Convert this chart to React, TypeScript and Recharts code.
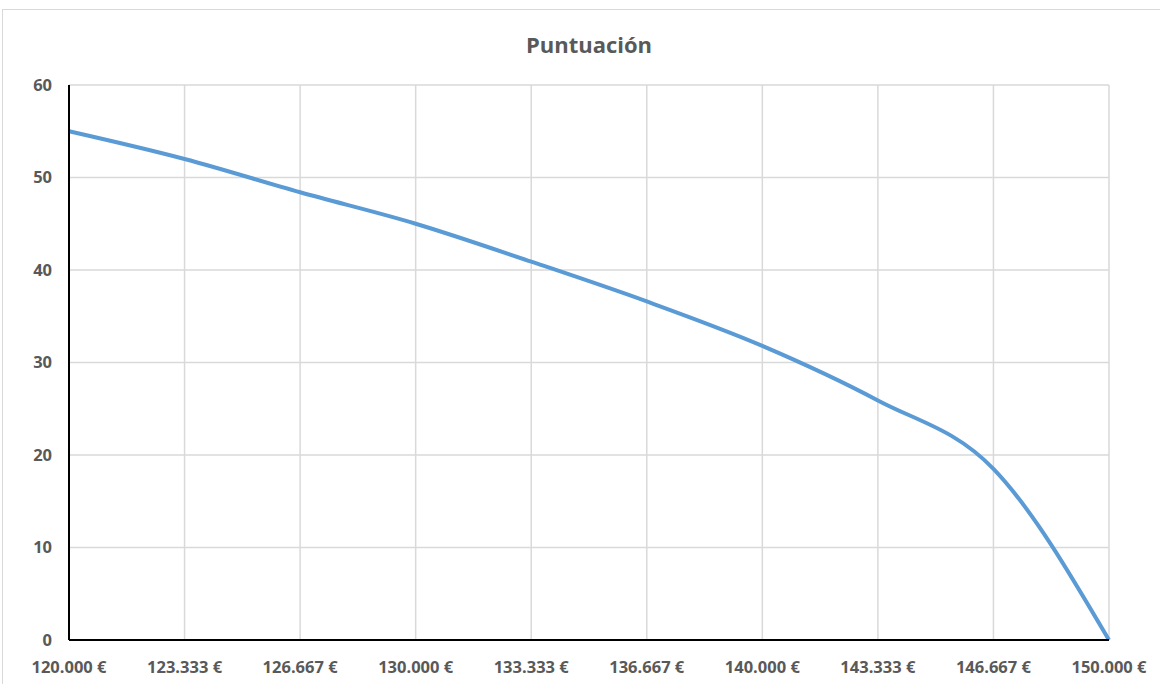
import { LineChart, Line, XAxis, YAxis, CartesianGrid } from "recharts";

const categories = [
  "120.000 €",
  "123.333 €",
  "126.667 €",
  "130.000 €",
  "133.333 €",
  "136.667 €",
  "140.000 €",
  "143.333 €",
  "146.667 €",
  "150.000 €",
];
const puntuacion = [55, 52, 48.4, 45, 40.9, 36.6, 31.8, 25.9, 18.5, 0];
const yTicks = [0, 10, 20, 30, 40, 50, 60];

const data = categories.map((c, i) => ({ precio: c, puntos: puntuacion[i] }));

const font = "'Open Sans', 'Noto Sans', sans-serif";
const grey = "#595959";

export default function App() {
  return (
    <div style={{ position: "fixed", left: 0, top: 0, width: 1160, height: 684, background: "#fff", overflow: "hidden" }}>
      <div
        style={{
          position: "absolute",
          left: 2,
          top: 9,
          width: 1170,
          height: 700,
          border: "1px solid #d9d9d9",
          boxSizing: "border-box",
        }}
      />
      <div
        style={{
          position: "absolute",
          left: 69,
          width: 1040,
          top: 29,
          lineHeight: "30px",
          textAlign: "center",
          fontFamily: font,
          fontWeight: 700,
          fontSize: 22,
          color: grey,
        }}
      >
        Puntuación
      </div>
      <LineChart
        width={1160}
        height={684}
        data={data}
        margin={{ top: 85, right: 51, left: 0, bottom: 0 }}
        style={{ position: "absolute", left: 0, top: 0 }}
      >
        <CartesianGrid stroke="#d9d9d9" strokeWidth={1.5} />
        <XAxis
          dataKey="precio"
          height={44}
          interval={0}
          tickSize={0}
          tickMargin={21}
          axisLine={{ stroke: "#000", strokeWidth: 2 }}
          tick={{ fill: grey, fontSize: 16.5, fontWeight: 700, fontFamily: font }}
        />
        <YAxis
          width={69}
          domain={[0, 60]}
          ticks={yTicks}
          tickSize={0}
          tickMargin={17}
          axisLine={{ stroke: "#000", strokeWidth: 2 }}
          tick={{ fill: grey, fontSize: 16.5, fontWeight: 700, fontFamily: font }}
        />
        <Line
          type="monotone"
          dataKey="puntos"
          stroke="#5B9BD5"
          strokeWidth={4}
          dot={false}
          isAnimationActive={false}
        />
      </LineChart>
    </div>
  );
}
